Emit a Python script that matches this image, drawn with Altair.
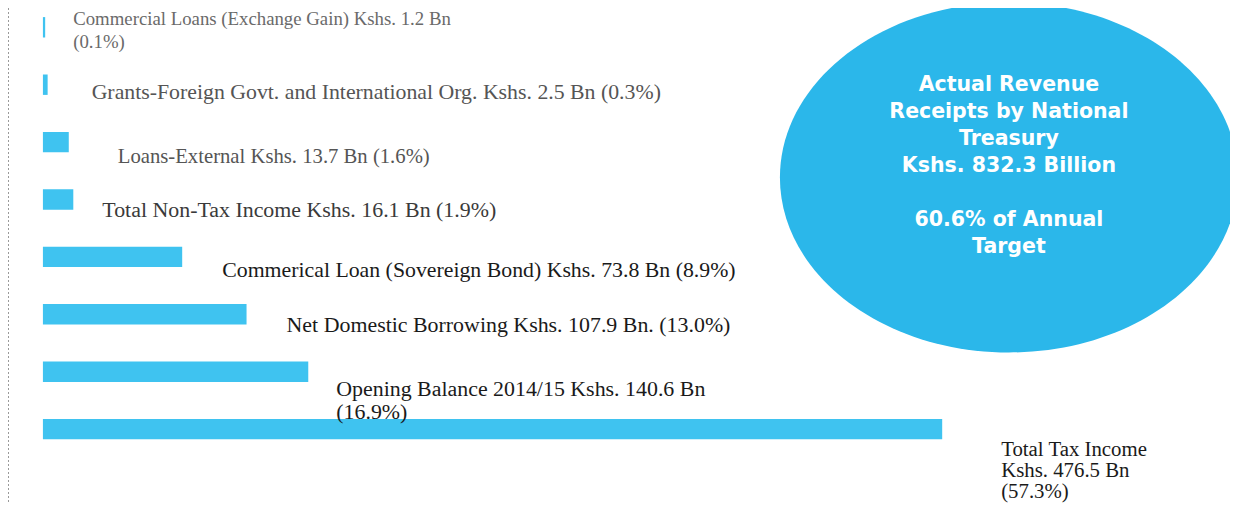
import altair as alt
import pandas as pd

# ---- data ----
categories = [
    "Commercial Loans (Exchange Gain)",
    "Grants-Foreign Govt. and International Org.",
    "Loans-External",
    "Total Non-Tax Income",
    "Commerical Loan (Sovereign Bond)",
    "Net Domestic Borrowing",
    "Opening Balance 2014/15",
    "Total Tax Income",
]
values_bn = [1.2, 2.5, 13.7, 16.1, 73.8, 107.9, 140.6, 476.5]
shares_pct = [0.1, 0.3, 1.6, 1.9, 8.9, 13.0, 16.9, 57.3]
labels = [
    "Commercial Loans (Exchange Gain) Kshs. 1.2 Bn\n(0.1%)",
    "Grants-Foreign Govt. and International Org. Kshs. 2.5 Bn (0.3%)",
    "Loans-External Kshs. 13.7 Bn (1.6%)",
    "Total Non-Tax Income Kshs. 16.1 Bn (1.9%)",
    "Commerical Loan (Sovereign Bond) Kshs. 73.8 Bn (8.9%)",
    "Net Domestic Borrowing Kshs. 107.9 Bn. (13.0%)",
    "Opening Balance 2014/15 Kshs. 140.6 Bn\n(16.9%)",
    "Total Tax Income\nKshs. 476.5 Bn\n(57.3%)",
]
summary_blocks = [
    "Actual Revenue\nReceipts by National\nTreasury\nKshs. 832.3 Billion",
    "60.6% of Annual\nTarget",
]

# ---- layout (pixels / styles) ----
W, H = 1222, 495
X_DOMAIN = [-18.5, 629.0]
PX_PER_BN = W / (X_DOMAIN[1] - X_DOMAIN[0])
ROW_TOP, ROW_STEP = 19.3, 57.4
Y_DOMAIN = [-ROW_TOP / ROW_STEP, (H - ROW_TOP) / ROW_STEP]
BAR_HALF = 10.2 / ROW_STEP

label_dx_px = [28, 44, 49, 29, 40, 40, 28, 59]
label_dy_px = [-8.8, 7.6, 15.2, 10.8, 13.4, 11, 17.6, 21.2]
label_size = [18.8, 21.8, 20.7, 21.9, 21.8, 21.9, 21.9, 20.8]
label_line_h = [23, 23, 23, 23, 23, 23, 23, 21]
label_color = ["#6a6a6a", "#555555", "#555555", "#3a3a3a", "#1a1a1a", "#1a1a1a", "#1a1a1a", "#1a1a1a"]
BAR_COLOR = "#3FC3F0"
ELLIPSE_COLOR = "#2BB7EA"

rows = []
for i, (c, v, s, lab) in enumerate(zip(categories, values_bn, shares_pct, labels)):
    rows.append({
        "category": c, "value": v, "share": s, "label": lab,
        "idx": i, "y0": i - BAR_HALF, "y1": i + BAR_HALF, "zero": 0.0,
        "lx": v + label_dx_px[i] / PX_PER_BN,
        "ly": i + label_dy_px[i] / ROW_STEP,
        "fs": label_size[i], "col": label_color[i], "lh": label_line_h[i],
    })
df = pd.DataFrame(rows)

xs = alt.Scale(domain=X_DOMAIN)
ys = alt.Scale(domain=Y_DOMAIN, reverse=True)

bars = alt.Chart(df).mark_rect(color=BAR_COLOR).encode(
    x=alt.X("zero:Q", scale=xs, axis=None),
    x2="value:Q",
    y=alt.Y("y0:Q", scale=ys, axis=None),
    y2="y1:Q",
)

def label_layer(sub, lh):
    return alt.Chart(sub).mark_text(
        align="left", baseline="middle", font="Liberation Serif", lineBreak="\n", lineHeight=lh
    ).encode(
        x=alt.X("lx:Q", scale=xs, axis=None),
        y=alt.Y("ly:Q", scale=ys, axis=None),
        text="label:N",
        size=alt.Size("fs:Q", scale=None, legend=None),
        color=alt.Color("col:N", scale=None, legend=None),
    )

text_a = label_layer(df[df["lh"] == 23], 23)
text_b = label_layer(df[df["lh"] == 21], 21)

# summary ellipse (annotation) placed in data units
def px_to_x(px):
    return (px - 8 - 35) / PX_PER_BN

def py_to_y(py):
    return (py - 8 - ROW_TOP) / ROW_STEP

ELL_CX, ELL_CY = 1009, 177.5
ELL_W = 458
ELL_RATIO = 350 / 458
ell_path = f"M -1 0 A 1 {ELL_RATIO:.4f} 0 1 1 1 0 A 1 {ELL_RATIO:.4f} 0 1 1 -1 0 Z"
ann = pd.DataFrame([{"x": px_to_x(ELL_CX), "y": py_to_y(ELL_CY)}])
block_first_line_py = [85, 220]
ann_txt = pd.DataFrame([
    {"x": px_to_x(ELL_CX), "y": py_to_y(py), "t": t}
    for py, t in zip(block_first_line_py, summary_blocks)
])

ellipse = alt.Chart(ann).mark_point(
    shape=ell_path, filled=True, color=ELLIPSE_COLOR, opacity=1, size=ELL_W * ELL_W, strokeWidth=0
).encode(
    x=alt.X("x:Q", scale=xs, axis=None),
    y=alt.Y("y:Q", scale=ys, axis=None),
)

ell_text = alt.Chart(ann_txt).mark_text(
    align="center", baseline="middle", font="DejaVu Sans", fontWeight="bold", fontSize=20.5,
    lineBreak="\n", lineHeight=27, color="white"
).encode(
    x=alt.X("x:Q", scale=xs, axis=None),
    y=alt.Y("y:Q", scale=ys, axis=None),
    text="t:N",
)

border = alt.Chart(ann).mark_rule(color="#9a9a9a", strokeDash=[2, 2], strokeWidth=1).encode(
    x=alt.value(0.5), y=alt.value(0), y2=alt.value(H)
)

chart = alt.layer(border, bars, text_a, text_b, ellipse, ell_text).properties(
    width=W, height=H, padding=0, autosize=alt.AutoSizeParams(type="none"),
    background="white",
).configure_view(stroke=None)

chart.save("out.html", embed_options={"renderer": "svg", "actions": False})
